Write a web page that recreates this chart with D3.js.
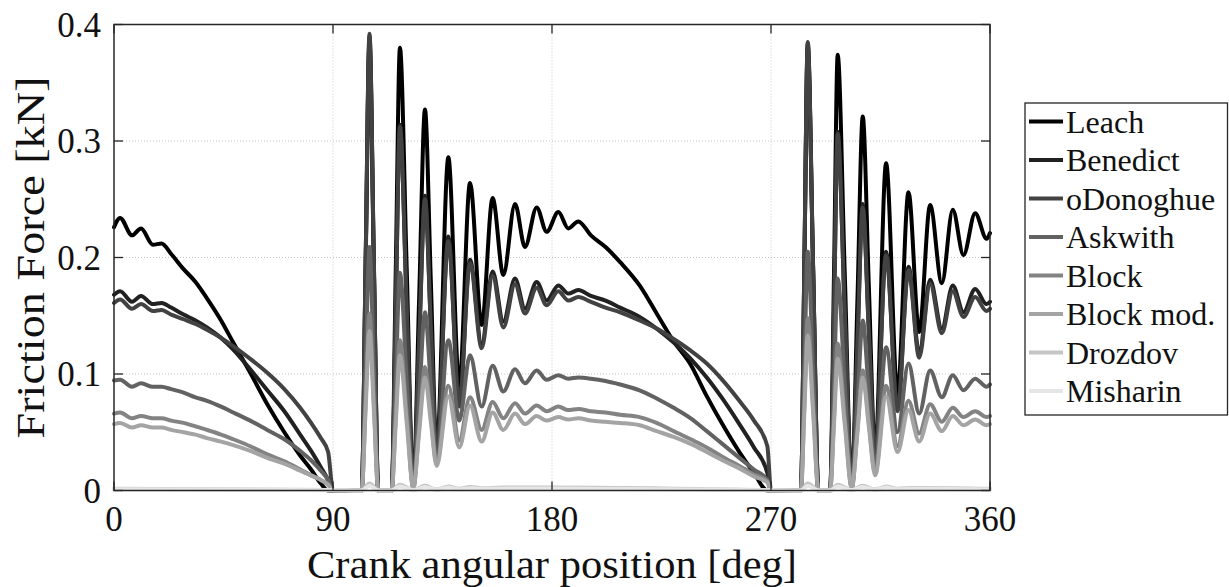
<!DOCTYPE html>
<html><head><meta charset="utf-8">
<script src="https://cdn.jsdelivr.net/npm/d3@7"></script>
</head><body style="margin:0">
<svg id="c" width="1229" height="587"></svg>
<script>
// ---------------- DATA ----------------
const angles = [
  0, 2.5, 7.4, 11.1, 16, 19.5, 23.5, 28.6, 33.5, 38.2, 44, 49, 56, 63, 70, 76.5, 81, 85, 88, 90,
  101.8, 103.4, 105, 106.8, 108.6, 114.1, 115.8, 117.5, 120.3, 123, 125.4, 127.8, 130.2, 132.6,
  137.4, 141.9, 146.3, 151.1, 155.6, 160, 164.8, 168.9, 173.7, 177.8, 182.6, 186.7, 190.8,
  196, 202, 208, 216, 223, 230, 237, 243.6, 250, 257, 263, 268.5, 270,
  282.3, 283.7, 285.1, 287.3, 289.5, 294.3, 295.9, 297.4, 300.3, 303.2, 305.5, 307.7, 310.2, 312.8,
  317.3, 322, 326.5, 330.9, 335.4, 340.2, 344.7, 349.1, 353.9, 358.6, 360
];
const leach = [
  0.226, 0.234, 0.219, 0.225, 0.211, 0.212, 0.203, 0.190, 0.179, 0.165, 0.146, 0.127, 0.101, 0.074, 0.050, 0.030, 0.018, 0.006, 0.000, 0,
  0, 0.19, 0.385, 0.19, 0, 0, 0.19, 0.380, 0.19, 0.003, 0.165, 0.327, 0.18, 0.034,
  0.286, 0.090, 0.264, 0.142, 0.251, 0.185, 0.246, 0.209, 0.243, 0.222, 0.239, 0.225, 0.231,
  0.219, 0.209, 0.196, 0.176, 0.152, 0.128, 0.108, 0.081, 0.057, 0.033, 0.015, 0, 0,
  0, 0.19, 0.380, 0.19, 0, 0, 0.187, 0.374, 0.187, 0.003, 0.162, 0.321, 0.176, 0.032,
  0.281, 0.083, 0.256, 0.136, 0.245, 0.178, 0.241, 0.202, 0.238, 0.216, 0.221
];
const benedict = [
  0.168, 0.171, 0.162, 0.167, 0.160, 0.161, 0.157, 0.151, 0.146, 0.140, 0.131, 0.121, 0.104, 0.086, 0.068, 0.048, 0.034, 0.020, 0.009, 0,
  0, 0.195, 0.390, 0.195, 0, 0, 0.157, 0.314, 0.157, 0.003, 0.128, 0.253, 0.142, 0.031,
  0.218, 0.075, 0.198, 0.126, 0.188, 0.145, 0.182, 0.156, 0.179, 0.163, 0.176, 0.169, 0.172,
  0.167, 0.163, 0.157, 0.149, 0.139, 0.127, 0.113, 0.097, 0.079, 0.057, 0.037, 0.015, 0,
  0, 0.192, 0.384, 0.192, 0, 0, 0.154, 0.308, 0.154, 0.003, 0.125, 0.246, 0.138, 0.030,
  0.205, 0.070, 0.192, 0.118, 0.181, 0.139, 0.176, 0.153, 0.173, 0.160, 0.162
];
const odonoghue = [
  0.161, 0.164, 0.156, 0.160, 0.154, 0.155, 0.151, 0.147, 0.143, 0.138, 0.131, 0.124, 0.113, 0.101, 0.087, 0.071, 0.058, 0.045, 0.033, 0,
  0, 0.196, 0.392, 0.196, 0, 0, 0.156, 0.312, 0.156, 0.003, 0.127, 0.250, 0.140, 0.030,
  0.214, 0.072, 0.195, 0.122, 0.184, 0.140, 0.177, 0.152, 0.174, 0.159, 0.171, 0.163, 0.166,
  0.162, 0.157, 0.153, 0.146, 0.139, 0.130, 0.120, 0.109, 0.095, 0.077, 0.060, 0.038, 0,
  0, 0.193, 0.385, 0.193, 0, 0, 0.153, 0.306, 0.153, 0.003, 0.123, 0.243, 0.136, 0.028,
  0.202, 0.068, 0.189, 0.114, 0.177, 0.135, 0.171, 0.149, 0.166, 0.154, 0.156
];
const askwith = [
  0.0945, 0.095, 0.089, 0.092, 0.089, 0.089, 0.087, 0.084, 0.080, 0.077, 0.072, 0.067, 0.060, 0.052, 0.044, 0.034, 0.026, 0.017, 0.009, 0,
  0, 0.105, 0.209, 0.105, 0, 0, 0.094, 0.187, 0.094, 0.002, 0.078, 0.153, 0.090, 0.026,
  0.129, 0.060, 0.116, 0.072, 0.107, 0.085, 0.104, 0.092, 0.103, 0.095, 0.099, 0.096, 0.097,
  0.096, 0.094, 0.091, 0.086, 0.079, 0.071, 0.062, 0.051, 0.040, 0.028, 0.018, 0.009, 0,
  0, 0.103, 0.205, 0.103, 0, 0, 0.091, 0.182, 0.091, 0.002, 0.074, 0.146, 0.083, 0.020,
  0.123, 0.050, 0.109, 0.066, 0.103, 0.080, 0.099, 0.086, 0.096, 0.089, 0.091
];
const block = [
  0.066, 0.067, 0.062, 0.064, 0.062, 0.062, 0.060, 0.058, 0.055, 0.052, 0.048, 0.044, 0.038, 0.031, 0.025, 0.018, 0.013, 0.009, 0.005, 0,
  0, 0.076, 0.152, 0.076, 0, 0, 0.065, 0.129, 0.065, 0.002, 0.054, 0.106, 0.064, 0.023,
  0.090, 0.043, 0.080, 0.052, 0.076, 0.062, 0.075, 0.066, 0.073, 0.068, 0.072, 0.069, 0.070,
  0.068, 0.067, 0.065, 0.063, 0.058, 0.051, 0.044, 0.037, 0.029, 0.021, 0.014, 0.008, 0,
  0, 0.074, 0.148, 0.074, 0, 0, 0.063, 0.126, 0.063, 0.002, 0.052, 0.103, 0.059, 0.015,
  0.090, 0.038, 0.077, 0.049, 0.074, 0.059, 0.071, 0.063, 0.068, 0.063, 0.064
];
const blockMod = [
  0.057, 0.058, 0.054, 0.056, 0.054, 0.054, 0.052, 0.050, 0.048, 0.045, 0.042, 0.039, 0.034, 0.028, 0.023, 0.017, 0.013, 0.009, 0.005, 0,
  0, 0.069, 0.137, 0.069, 0, 0, 0.058, 0.116, 0.058, 0.002, 0.050, 0.097, 0.059, 0.021,
  0.081, 0.037, 0.073, 0.042, 0.067, 0.052, 0.066, 0.057, 0.064, 0.060, 0.063, 0.061, 0.062,
  0.060, 0.059, 0.058, 0.056, 0.051, 0.046, 0.040, 0.033, 0.026, 0.019, 0.012, 0.007, 0,
  0, 0.067, 0.133, 0.067, 0, 0, 0.057, 0.113, 0.057, 0.002, 0.049, 0.097, 0.055, 0.013,
  0.081, 0.033, 0.069, 0.042, 0.066, 0.051, 0.064, 0.056, 0.061, 0.056, 0.057
];
const lowAngles = [0, 90, 101.8, 105, 108.6, 114.1, 117.5, 123, 127.8, 132.6, 137.4, 141.9, 146.3, 151.1,
  160, 180, 270, 282.3, 285.1, 289.5, 294.3, 297.4, 303.2, 307.7, 312.8, 317.3, 322, 330, 360];
const drozdov = [0.0015, 0.0005, 0, 0.006, 0, 0, 0.005, 0.0003, 0.004, 0.0008, 0.0035, 0.0015, 0.003, 0.002,
  0.0025, 0.0025, 0.0003, 0, 0.006, 0, 0, 0.005, 0.0003, 0.004, 0.0008, 0.0035, 0.0015, 0.0022, 0.0015];
const misharin = [0.001, 0.0003, 0, 0.004, 0, 0, 0.0035, 0.0002, 0.003, 0.0005, 0.0025, 0.001, 0.002, 0.0015,
  0.0017, 0.0017, 0.0002, 0, 0.004, 0, 0, 0.0035, 0.0002, 0.003, 0.0005, 0.0025, 0.001, 0.0015, 0.001];

const seriesNames = ["Leach", "Benedict", "oDonoghue", "Askwith", "Block", "Block mod.", "Drozdov", "Misharin"];
const xTicks = [0, 90, 180, 270, 360];
const yTicks = [0, 0.1, 0.2, 0.3, 0.4];
const xLabel = "Crank angular position [deg]";
const yLabel = "Friction Force [kN]";

// ---------------- STYLE ----------------
const seriesColors = ["#000000", "#212121", "#424242", "#626262", "#838383", "#a4a4a4", "#c5c5c5", "#e6e6e6"];
const FONT = '"Liberation Serif", "Times New Roman", "FreeSerif", "Noto Serif"';

const series = [
  {name: seriesNames[0], xs: angles, ys: leach},
  {name: seriesNames[1], xs: angles, ys: benedict},
  {name: seriesNames[2], xs: angles, ys: odonoghue},
  {name: seriesNames[3], xs: angles, ys: askwith},
  {name: seriesNames[4], xs: angles, ys: block},
  {name: seriesNames[5], xs: angles, ys: blockMod},
  {name: seriesNames[6], xs: lowAngles, ys: drozdov},
  {name: seriesNames[7], xs: lowAngles, ys: misharin}
];

const svg = d3.select("#c");
const L = 114, R = 990, T = 24.5, B = 490.5;
const x = d3.scaleLinear().domain([0, 360]).range([L, R]);
const y = d3.scaleLinear().domain([0, 0.4]).range([B, T]);

function setFont(sel, size) {
  sel.style("font-family", FONT).style("font-size", size + "px").attr("fill", "#111");
}

// grid
const grid = svg.append("g");
grid.selectAll("line.gx").data(xTicks.slice(1, -1)).join("line")
  .attr("x1", d => x(d)).attr("x2", d => x(d)).attr("y1", T).attr("y2", B)
  .attr("stroke", "#c6c6c6").attr("stroke-width", 1).attr("stroke-dasharray", "1,2");
grid.selectAll("line.gy").data(yTicks.slice(1, -1)).join("line")
  .attr("x1", L).attr("x2", R).attr("y1", d => y(d)).attr("y2", d => y(d))
  .attr("stroke", "#c6c6c6").attr("stroke-width", 1).attr("stroke-dasharray", "1,2");

// data lines
const line = d3.line().curve(d3.curveMonotoneX);
svg.append("g").selectAll("path").data(series).join("path")
  .attr("d", s => line(s.xs.map((a, i) => [x(a), y(s.ys[i])])))
  .attr("fill", "none")
  .attr("stroke", (s, i) => seriesColors[i])
  .attr("stroke-width", 4)
  .attr("stroke-linejoin", "round")
  .attr("stroke-linecap", "round");

// ticks (inward) on all four sides
const tickLen = 9;
const tk = svg.append("g").attr("stroke", "#262626").attr("stroke-width", 1.3);
tk.selectAll("line.xb").data(xTicks).join("line")
  .attr("x1", d => x(d)).attr("x2", d => x(d)).attr("y1", B).attr("y2", B - tickLen);
tk.selectAll("line.xt").data(xTicks).join("line")
  .attr("x1", d => x(d)).attr("x2", d => x(d)).attr("y1", T).attr("y2", T + tickLen);
tk.selectAll("line.yl").data(yTicks).join("line")
  .attr("x1", L).attr("x2", L + tickLen).attr("y1", d => y(d)).attr("y2", d => y(d));
tk.selectAll("line.yr").data(yTicks).join("line")
  .attr("x1", R).attr("x2", R - tickLen).attr("y1", d => y(d)).attr("y2", d => y(d));

// tick labels
const fmtY = d => d === 0 ? "0" : d3.format(".1f")(d);
svg.selectAll("text.xt").data(xTicks).join("text").attr("class", "xt")
  .attr("x", d => x(d)).attr("y", 531).attr("text-anchor", "middle")
  .call(setFont, 35).text(d => String(d));
svg.selectAll("text.yt").data(yTicks).join("text").attr("class", "yt")
  .attr("x", L - 13).attr("y", d => y(d) + 12).attr("text-anchor", "end")
  .call(setFont, 35).text(fmtY);

// box
svg.append("rect").attr("x", L).attr("y", T).attr("width", R - L).attr("height", B - T)
  .attr("fill", "none").attr("stroke", "#262626").attr("stroke-width", 1.5);

// axis labels
svg.append("text").attr("x", (L + R) / 2).attr("y", 578).attr("text-anchor", "middle")
  .call(setFont, 41).attr("textLength", 490).attr("lengthAdjust", "spacingAndGlyphs").text(xLabel);
svg.append("text").attr("transform", `translate(44,${(T + B) / 2}) rotate(-90)`).attr("text-anchor", "middle")
  .call(setFont, 41).attr("textLength", 362).attr("lengthAdjust", "spacingAndGlyphs").text(yLabel);

// legend
const lg = svg.append("g");
lg.append("rect").attr("x", 1025).attr("y", 103).attr("width", 202.5).attr("height", 312)
  .attr("fill", "#fff").attr("stroke", "#262626").attr("stroke-width", 1.3);
lg.selectAll("line.lgl").data(series).join("line")
  .attr("x1", 1029).attr("x2", 1063).attr("y1", (d, i) => 121.5 + i * 38.5).attr("y2", (d, i) => 121.5 + i * 38.5)
  .attr("stroke", (d, i) => seriesColors[i]).attr("stroke-width", 4);
lg.selectAll("text.lgt").data(series).join("text")
  .attr("x", 1066).attr("y", (d, i) => 121.5 + i * 38.5 + 11)
  .call(setFont, 32).text(d => d.name);
</script>
</body></html>
